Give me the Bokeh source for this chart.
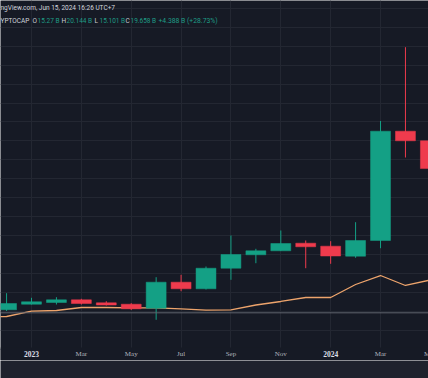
from bokeh.plotting import figure
from bokeh.models import Range1d, FixedTicker, SingleIntervalTicker, Span, Label, BoxAnnotation, ColumnDataSource
from bokeh.layouts import column
from bokeh.embed import file_html
from bokeh.resources import INLINE

# ---- data (billions USD), monthly bars; index 0 = Jan 2023 ----
bar_index = [-1, 0, 1, 2, 3, 4, 5, 6, 7, 8, 9, 10, 11, 12, 13, 14, 15, 16, 17]
bar_month = ["Dec 2022", "Jan 2023", "Feb 2023", "Mar 2023", "Apr 2023", "May 2023", "Jun 2023",
             "Jul 2023", "Aug 2023", "Sep 2023", "Oct 2023", "Nov 2023", "Dec 2023", "Jan 2024",
             "Feb 2024", "Mar 2024", "Apr 2024", "May 2024", "Jun 2024"]
opens = [11.544, 11.691, 11.736, 11.807, 11.728, 11.691, 11.586, 12.272, 12.098, 12.641,
         12.995, 13.100, 13.301, 13.222, 12.958, 13.372, 16.256, 16.003, 15.270]
highs = [11.982, 11.860, 11.876, 11.834, 11.770, 11.718, 12.404, 12.467, 12.686, 13.504,
         13.153, 13.636, 13.372, 13.354, 13.855, 16.525, 18.472, 16.050, 20.144]
lows = [11.512, 11.683, 11.683, 11.683, 11.657, 11.538, 11.280, 12.034, 12.079, 12.335,
        12.773, 13.100, 12.641, 12.757, 12.916, 13.169, 15.562, 15.050, 15.101]
closes = [11.710, 11.755, 11.807, 11.710, 11.670, 11.570, 12.272, 12.098, 12.641, 13.003,
          13.100, 13.293, 13.206, 12.963, 13.372, 16.256, 16.003, 15.270, 19.658]

line_index = [-2, -1, 0, 1, 2, 3, 4, 5, 6, 7, 8, 9, 10, 11, 12, 13, 14, 15, 16]
line_values = [11.354, 11.367, 11.507, 11.525, 11.604, 11.604, 11.596, 11.596, 11.570, 11.533,
               11.544, 11.670, 11.763, 11.868, 11.868, 12.211, 12.448, 12.185, 12.330]

ref_level = 11.464

tick_index = [0, 2, 4, 6, 8, 10, 12, 14, 16]
tick_labels = ["2023", "Mar", "May", "Jul", "Sep", "Nov", "2024", "Mar", "May"]
year_labels = {"2023", "2024"}

header_text = "ngView.com, Jun 15, 2024 16:26 UTC+7"
symbol_text = "YPTOCAP"
ohlc_letters = ["O", "H", "L", "C"]
ohlc_values = ["15.27 B", "20.144 B", "15.101 B", "19.658 B"]
change_text = "+4.388 B (+28.73%)"

# ---- styling ----
BG = "#161a25"
BAND = "#1e222d"
GRID = "#232732"
UP = "#14a085"
DOWN = "#ef3b4d"
LINE = "#eda46c"
FONT = "Roboto"

PX_PER_B = 37.9          # vertical scale
Y1 = 19.7045             # value at the top edge
PANE_H = 347             # chart pane height (px); the time-scale row lies below it
FIG_H = 360
Y0 = Y1 - FIG_H / PX_PER_B
pane_bottom = Y1 - PANE_H / PX_PER_B
label_level = Y1 - 353 / PX_PER_B

up_flags = [c >= o for o, c in zip(opens, closes)]
src = ColumnDataSource(dict(
    x=bar_index,
    top=[max(o, c) for o, c in zip(opens, closes)],
    bottom=[min(o, c) for o, c in zip(opens, closes)],
    high=highs, low=lows,
    color=[UP if u else DOWN for u in up_flags],
))

p = figure(width=428, height=FIG_H, output_backend="svg", toolbar_location=None,
           x_range=Range1d(-1.2435, 15.9246), y_range=Range1d(Y0, Y1),
           x_axis_location=None, y_axis_location=None,
           min_border_left=0, min_border_right=0, min_border_top=0, min_border_bottom=0)
p.background_fill_color = BG
p.border_fill_color = BG
p.outline_line_color = None

p.ygrid.ticker = SingleIntervalTicker(interval=0.5)
p.ygrid.grid_line_color = GRID
p.xgrid.ticker = FixedTicker(ticks=tick_index)
p.xgrid.grid_line_color = GRID

p.add_layout(Span(location=ref_level, dimension="width", line_color="#5f636e", line_width=1))

p.line(line_index, line_values, line_color=LINE, line_width=1.3)

p.segment(x0="x", y0="low", x1="x", y1="high", color="color", line_width=1, source=src)
p.vbar(x="x", top="top", bottom="bottom", width=0.8, fill_color="color", line_color="color",
       line_width=0.5, source=src)

# time-scale row (below the pane)
p.add_layout(BoxAnnotation(top=pane_bottom, fill_color=BG, fill_alpha=1, line_color=None))
month_ticks = [(t, l) for t, l in zip(tick_index, tick_labels) if l not in year_labels]
year_ticks = [(t, l) for t, l in zip(tick_index, tick_labels) if l in year_labels]
p.text(x=[t for t, _ in month_ticks], y=[label_level] * len(month_ticks),
       text=[l for _, l in month_ticks], text_align="center", text_baseline="middle",
       text_font=FONT, text_font_size="7px", text_color="#b2b5be", level="overlay")
p.text(x=[t for t, _ in year_ticks], y=[label_level] * len(year_ticks),
       text=[l for _, l in year_ticks], text_align="center", text_baseline="middle",
       text_font=FONT, text_font_size="7.5px", text_font_style="bold", text_color="#dcdfe5",
       level="overlay")

# header texts
p.add_layout(Label(x=0, y=Y1 - 7 / PX_PER_B, x_units="screen", y_units="data", text=header_text,
                   text_baseline="middle", text_font=FONT, text_font_size="6.5px",
                   text_color="#d1d4dc"))
row_y = Y1 - 20.5 / PX_PER_B
FS = "6.5px"
p.add_layout(Label(x=0, y=row_y, x_units="screen", y_units="data", text=symbol_text,
                   text_baseline="middle", text_font=FONT, text_font_size=FS,
                   text_color="#d1d4dc"))
letter_x = [32, 61, 94, 125]
value_x = [37, 66, 99, 130]
for lx, vx, letter, val in zip(letter_x, value_x, ohlc_letters, ohlc_values):
    p.add_layout(Label(x=lx, y=row_y, x_units="screen", y_units="data", text=letter,
                       text_baseline="middle", text_font=FONT, text_font_size=FS,
                       text_color="#c8cbd3"))
    p.add_layout(Label(x=vx, y=row_y, x_units="screen", y_units="data", text=val,
                       text_baseline="middle", text_font=FONT, text_font_size=FS,
                       text_color="#1f9c86"))
p.add_layout(Label(x=158, y=row_y, x_units="screen", y_units="data", text=change_text,
                   text_baseline="middle", text_font=FONT, text_font_size="6.8px",
                   text_color="#1f9c86"))

band = figure(width=428, height=18, output_backend="svg", toolbar_location=None,
              x_axis_location=None, y_axis_location=None,
              min_border_left=0, min_border_right=0, min_border_top=0, min_border_bottom=0)
band.background_fill_color = BAND
band.border_fill_color = BAND
band.outline_line_color = None
band.xgrid.visible = False
band.ygrid.visible = False

layout = column(p, band, spacing=0)
open("out.html", "w").write(file_html(layout, INLINE))
